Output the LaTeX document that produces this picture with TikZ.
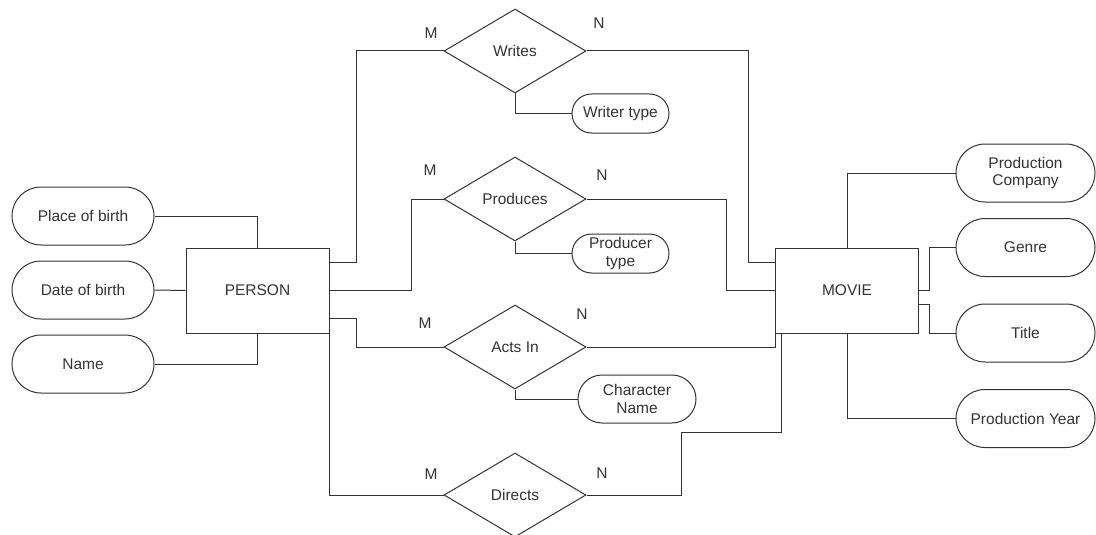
\documentclass[tikz,border=0pt]{standalone}
\usepackage{fontspec}
\setmainfont{Liberation Sans}
\usetikzlibrary{shapes.geometric}

\begin{document}
\begin{tikzpicture}[
  x=1pt, y=-1pt,
  font=\fontsize{15.5}{17.5}\selectfont,
  line width=1pt, black!80,
  entity/.style={rectangle, draw, minimum width=143pt, minimum height=85pt, inner sep=0pt},
  attr/.style={rectangle, draw, rounded corners=29pt, minimum width=142pt, minimum height=58pt, inner sep=0pt, align=center},
  sattr/.style={attr, rounded corners=19.5pt, minimum width=97pt, minimum height=39pt},
  rel/.style={diamond, draw, minimum width=142pt, minimum height=84pt, inner sep=0pt},
  card/.style={inner sep=0pt}
]
  \useasboundingbox (0,0) rectangle (1096,535);

  % entities
  \node[entity] (person) at (257.5, 290.5) {PERSON};
  \node[entity] (movie) at (847, 290.5) {MOVIE};

  % person attributes
  \node[attr] (pob) at (83, 216) {Place of birth};
  \node[attr] (dob) at (83, 290) {Date of birth};
  \node[attr] (name) at (83, 364) {Name};
  \draw (pob.east) -| (person.north);
  \draw (dob.east) -- (person.west);
  \draw (name.east) -| (person.south);

  % movie attributes
  \node[attr, minimum width=139pt] (pcomp) at (1025.5, 173) {Production\\Company};
  \node[attr, minimum width=139pt] (genre) at (1025.5, 247.5) {Genre};
  \node[attr, minimum width=139pt] (title) at (1025.5, 333) {Title};
  \node[attr, minimum width=139pt] (pyear) at (1025.5, 418.5) {Production Year};
  \draw (movie.north) |- (pcomp.west);
  \draw (movie.east) -- ++(10,0) |- (genre.west);
  \draw ([yshift=-13.5pt]movie.east) -- ++(10,0) |- (title.west);
  \draw (movie.south) |- (pyear.west);

  % Writes
  \node[rel] (writes) at (515, 51) {Writes};
  \node[sattr] (wtype) at (620.5, 113.5) {Writer type};
  \draw ([yshift=28.5pt]person.east) -- ++(27,0) |- (writes.west);
  \draw (writes.east) -- ++(162,0) |- ([yshift=28.5pt]movie.west);
  \draw (writes.south) |- (wtype.west);
  \node[card] (wm) at (431, 33) {M};
  \node[card] (wn) at (599, 23) {N};

  % Produces
  \node[rel] (produces) at (515, 199) {Produces};
  \node[sattr] (ptype) at (620.5, 253.5) {Producer\\type};
  \draw (person.east) -- ++(82,0) |- (produces.west);
  \draw (produces.east) -- ++(140,0) |- (movie.west);
  \draw (produces.south) |- (ptype.west);
  \node[card] (pm) at (430, 170) {M};
  \node[card] (pn) at (602, 175) {N};

  % Acts In
  \node[rel] (actsin) at (515, 347) {Acts In};
  \node[attr, rounded corners=24pt, minimum width=118pt, minimum height=48pt] (cname) at (637, 399) {Character\\Name};
  \draw ([yshift=-27.5pt]person.east) -- ++(27,0) |- (actsin.west);
  \draw (actsin.east) -| (movie.south west);
  \draw (actsin.south) |- (cname.west);
  \node[card] (am) at (425, 323) {M};
  \node[card] (an) at (582, 314) {N};

  % Directs
  \node[rel] (directs) at (515, 495) {Directs};
  \draw (person.south east) |- (directs.west);
  \draw (directs.east) -- ++(95,0) -- ++(0,-63) -| ([xshift=6pt]movie.south west);
  \node[card] (dm) at (431, 474) {M};
  \node[card] (dn) at (602, 473) {N};
\end{tikzpicture}
\end{document}
